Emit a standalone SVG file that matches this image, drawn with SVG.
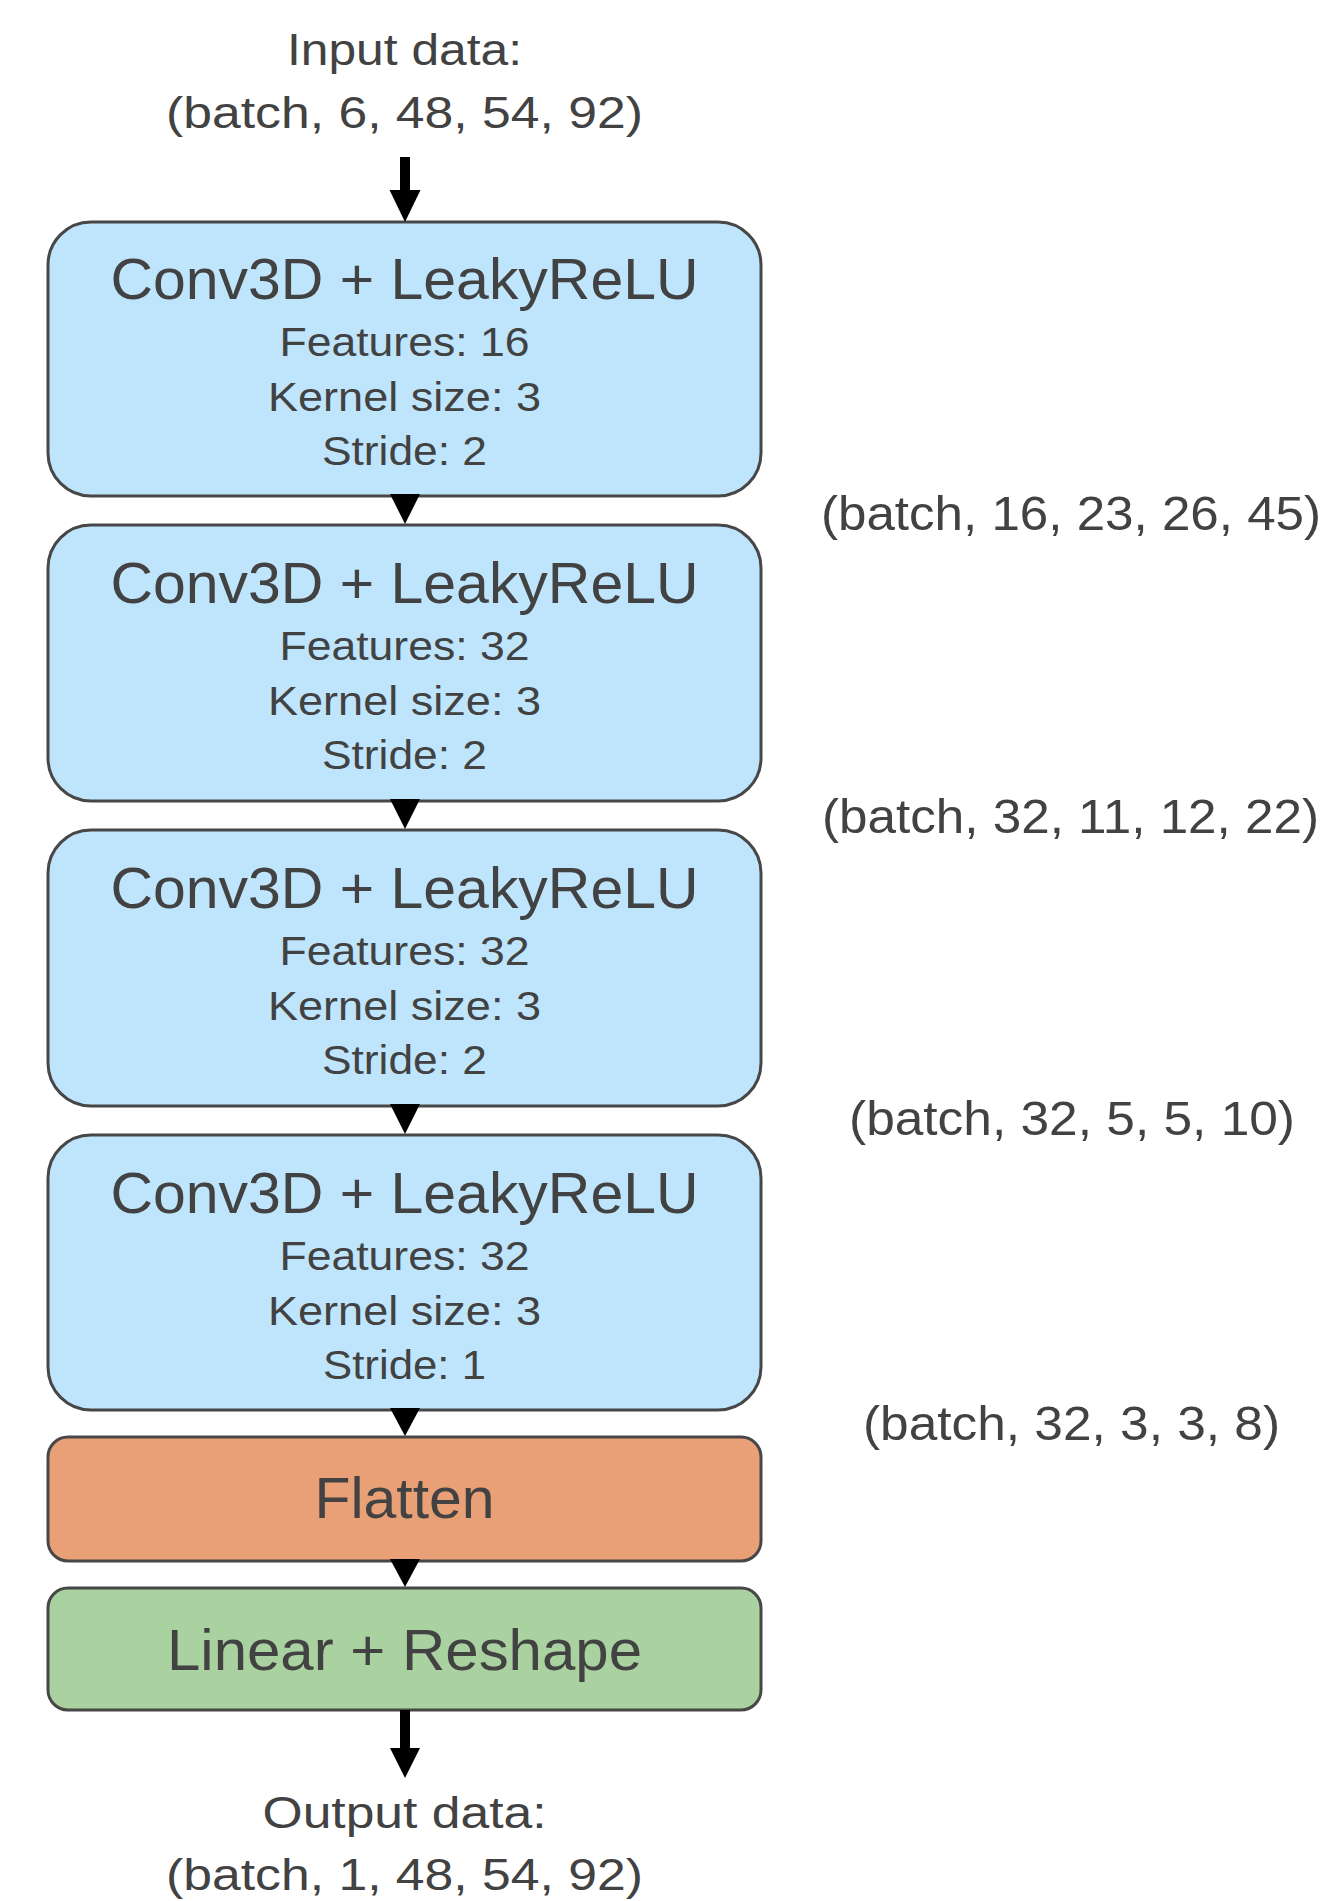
<svg xmlns="http://www.w3.org/2000/svg" width="1324" height="1901" viewBox="0 0 1324 1901">
  <style>
    text { font-family: "Liberation Sans", Arial, sans-serif; fill: #424242; text-anchor: middle; }
    .io { font-size: 44px; }
    .shape { font-size: 48px; }
    .title { font-size: 57px; }
    .param { font-size: 40px; }
    .big { font-size: 57px; }
    .box { stroke: #474747; stroke-width: 3; }
    .conv { fill: #bee5fc; }
    .flat { fill: #e9a077; }
    .lin { fill: #aad2a0; }
    .head { fill: #000; }
  </style>
  <rect width="1324" height="1901" fill="#ffffff"/>

  <!-- input / output captions -->
  <g id="input-label">
    <text class="io" x="404.5" y="65" textLength="235" lengthAdjust="spacingAndGlyphs">Input data:</text>
    <text class="io" x="404.5" y="128" textLength="477" lengthAdjust="spacingAndGlyphs">(batch, 6, 48, 54, 92)</text>
  </g>

  <!-- Conv3D blocks -->
  <g id="conv1">
    <rect class="box conv" x="48" y="222" width="713" height="274" rx="43"/>
    <text class="title" x="404.5" y="299" textLength="588" lengthAdjust="spacingAndGlyphs">Conv3D + LeakyReLU</text>
    <text class="param" x="404.5" y="356" textLength="250" lengthAdjust="spacingAndGlyphs">Features: 16</text>
    <text class="param" x="404.5" y="411" textLength="273" lengthAdjust="spacingAndGlyphs">Kernel size: 3</text>
    <text class="param" x="404.5" y="465" textLength="165" lengthAdjust="spacingAndGlyphs">Stride: 2</text>
  </g>
  <g id="conv2">
    <rect class="box conv" x="48" y="525" width="713" height="276" rx="43"/>
    <text class="title" x="404.5" y="603" textLength="588" lengthAdjust="spacingAndGlyphs">Conv3D + LeakyReLU</text>
    <text class="param" x="404.5" y="660" textLength="250" lengthAdjust="spacingAndGlyphs">Features: 32</text>
    <text class="param" x="404.5" y="715" textLength="273" lengthAdjust="spacingAndGlyphs">Kernel size: 3</text>
    <text class="param" x="404.5" y="769" textLength="165" lengthAdjust="spacingAndGlyphs">Stride: 2</text>
  </g>
  <g id="conv3">
    <rect class="box conv" x="48" y="830" width="713" height="276" rx="43"/>
    <text class="title" x="404.5" y="908" textLength="588" lengthAdjust="spacingAndGlyphs">Conv3D + LeakyReLU</text>
    <text class="param" x="404.5" y="965" textLength="250" lengthAdjust="spacingAndGlyphs">Features: 32</text>
    <text class="param" x="404.5" y="1020" textLength="273" lengthAdjust="spacingAndGlyphs">Kernel size: 3</text>
    <text class="param" x="404.5" y="1074" textLength="165" lengthAdjust="spacingAndGlyphs">Stride: 2</text>
  </g>
  <g id="conv4">
    <rect class="box conv" x="48" y="1135" width="713" height="275" rx="43"/>
    <text class="title" x="404.5" y="1213" textLength="588" lengthAdjust="spacingAndGlyphs">Conv3D + LeakyReLU</text>
    <text class="param" x="404.5" y="1270" textLength="250" lengthAdjust="spacingAndGlyphs">Features: 32</text>
    <text class="param" x="404.5" y="1325" textLength="273" lengthAdjust="spacingAndGlyphs">Kernel size: 3</text>
    <text class="param" x="404.5" y="1379" textLength="163" lengthAdjust="spacingAndGlyphs">Stride: 1</text>
  </g>

  <!-- Flatten and Linear blocks -->
  <g id="flatten">
    <rect class="box flat" x="48" y="1437" width="713" height="124" rx="20"/>
    <text class="big" x="404.5" y="1518" textLength="180" lengthAdjust="spacingAndGlyphs">Flatten</text>
  </g>
  <g id="linear">
    <rect class="box lin" x="48" y="1588" width="713" height="122" rx="20"/>
    <text class="big" x="404.5" y="1670" textLength="475" lengthAdjust="spacingAndGlyphs">Linear + Reshape</text>
  </g>

  <g id="output-label">
    <text class="io" x="404.5" y="1828" textLength="284" lengthAdjust="spacingAndGlyphs">Output data:</text>
    <text class="io" x="404.5" y="1890" textLength="477" lengthAdjust="spacingAndGlyphs">(batch, 1, 48, 54, 92)</text>
  </g>

  <!-- tensor shapes between blocks -->
  <g id="shape-labels">
    <text class="shape" x="1071" y="530" textLength="500" lengthAdjust="spacingAndGlyphs">(batch, 16, 23, 26, 45)</text>
    <text class="shape" x="1070.5" y="833" textLength="497" lengthAdjust="spacingAndGlyphs">(batch, 32, 11, 12, 22)</text>
    <text class="shape" x="1072" y="1135" textLength="446" lengthAdjust="spacingAndGlyphs">(batch, 32, 5, 5, 10)</text>
    <text class="shape" x="1071.5" y="1440" textLength="417" lengthAdjust="spacingAndGlyphs">(batch, 32, 3, 3, 8)</text>
  </g>

  <!-- connectors -->
  <g id="connectors">
    <rect x="400" y="157" width="10" height="34" fill="#000"/>
    <polygon class="head" points="389.5,190 420.5,190 405,222"/>
    <polygon class="head" points="390,494 420,494 405,524"/>
    <polygon class="head" points="390,799 420,799 405,829"/>
    <polygon class="head" points="390,1104 420,1104 405,1134"/>
    <polygon class="head" points="390,1408 420,1408 405,1436"/>
    <polygon class="head" points="390,1559 420,1559 405,1587"/>
    <rect x="400" y="1710" width="10" height="40" fill="#000"/>
    <polygon class="head" points="390,1748 420,1748 405,1778"/>
  </g>
</svg>
